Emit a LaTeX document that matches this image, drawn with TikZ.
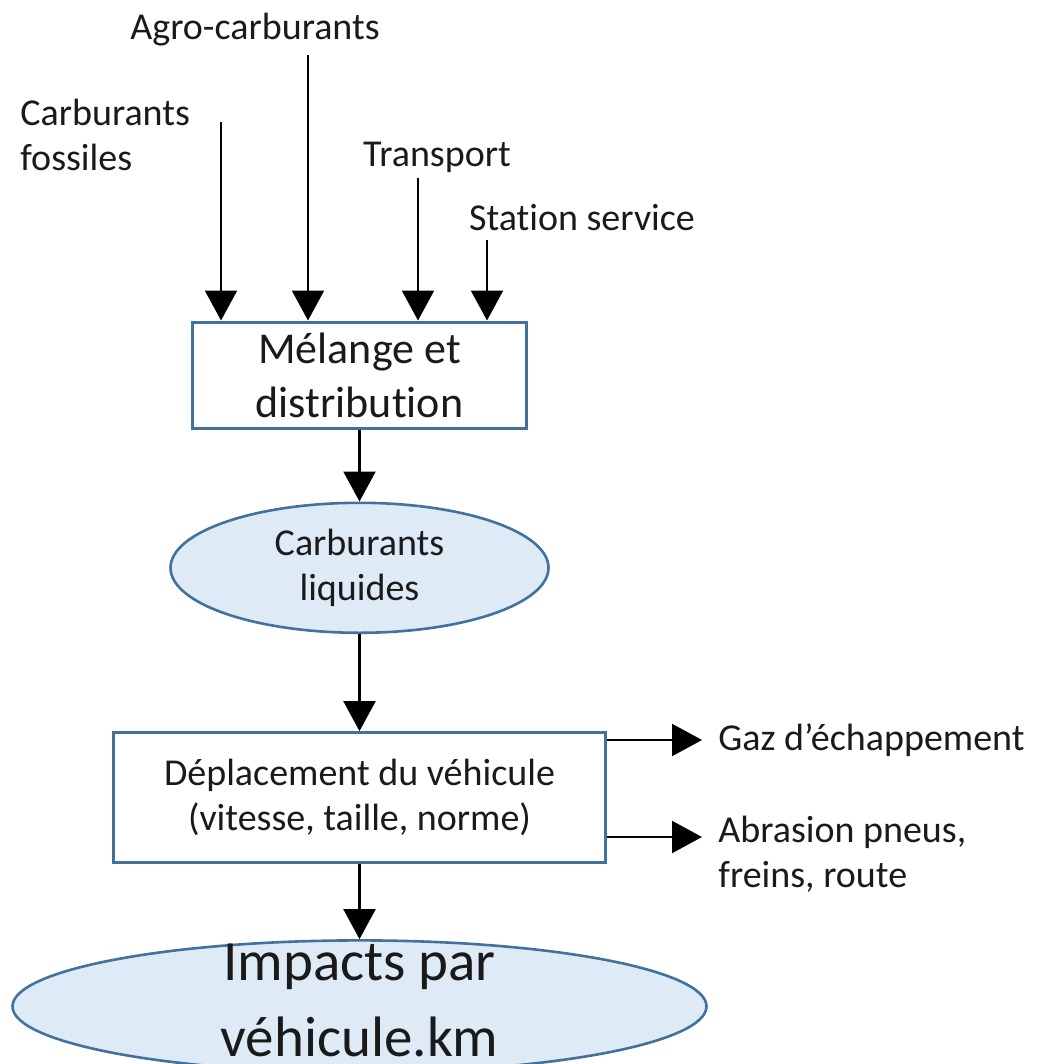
\documentclass[tikz,border=0pt]{standalone}
\usepackage{fontspec}
\setmainfont{Carlito}[Ligatures=NoCommon]
\usepackage{xcolor}
\usepackage{tikz}
\usetikzlibrary{shapes.geometric, arrows.meta, positioning}
\definecolor{boxblue}{HTML}{41719C}
\definecolor{ovalfill}{HTML}{DEEBF7}
\definecolor{inktext}{HTML}{1A1A1A}
\tikzset{
  proc/.style={rectangle, draw=boxblue, line width=1.5pt, fill=white,
               align=center, text=inktext, inner sep=0pt},
  oval/.style={ellipse, draw=boxblue, line width=1.3pt, fill=ovalfill,
               align=center, text=inktext, inner sep=0pt},
  tag/.style={font=\fontsize{19}{22.5}\selectfont, text=inktext, inner sep=0pt},
  flow/.style={-{Triangle[width=16pt,length=15pt]}, line width=1.1pt, black},
}

\begin{document}
\begin{tikzpicture}[x=0.5pt, y=-0.5pt]
  \useasboundingbox (0,0) rectangle (1043,1064);

  % ── Main chain ───────────────────────────────────────────────────────────
  \node[proc, minimum width=167pt, minimum height=53pt,
        font=\fontsize{22}{27}\selectfont] (melange) at (359.5,375)
        {Mélange et\\distribution};
  \node[oval, minimum width=189pt, minimum height=65pt,
        font=\fontsize{19}{22.5}\selectfont, below=36pt of melange] (liquides)
        {Carburants\\liquides};
  \node[proc, minimum width=246pt, minimum height=65pt,
        font=\fontsize{19}{22.5}\selectfont, below=48.5pt of liquides] (deplacement)
        {Déplacement du véhicule\\(vitesse, taille, norme)};
  \node[oval, minimum width=347pt, minimum height=66pt,
        below=37.5pt of deplacement] (impacts) {};
  \node[font=\fontsize{28.5}{38}\selectfont, align=center, text=inktext, inner sep=0pt]
        (impactstxt) at ([yshift=3pt]impacts.center) {Impacts par\\véhicule.km};

  % ── Inputs ───────────────────────────────────────────────────────────────
  \node[tag] (agro) at (255,30) {Agro-carburants};
  \node[tag, align=left, anchor=west] (fossiles) at (20,135) {Carburants\\fossiles};
  \node[tag] (transport) at (437,157) {Transport};
  \node[tag] (station) at (582,218) {Station service};

  \coordinate (fossin)    at (221,122);
  \coordinate (agroin)    at (308,55);
  \coordinate (transin)   at (418,178);
  \coordinate (stationin) at (487,240);

  % ── Outputs ──────────────────────────────────────────────────────────────
  \node[tag, anchor=west] (gaz) at (718,740) {Gaz d’échappement};
  \node[tag, align=left, anchor=west] (abrasion) at (718,854) {Abrasion pneus,\\freins, route};

  \coordinate (gazout) at (702,740);
  \coordinate (abrout) at (702,837);

  % ── Edges ────────────────────────────────────────────────────────────────
  \draw[flow] (fossin)    -- (fossin |- melange.north);
  \draw[flow] (agroin)    -- (agroin |- melange.north);
  \draw[flow] (transin)   -- (transin |- melange.north);
  \draw[flow] (stationin) -- (stationin |- melange.north);

  \draw[flow] (melange)     -- (liquides);
  \draw[flow] (liquides)    -- (deplacement);
  \draw[flow] (deplacement) -- (impacts);

  \draw[flow] (deplacement.east |- gazout) -- (gazout);
  \draw[flow] (deplacement.east |- abrout) -- (abrout);

\end{tikzpicture}
\end{document}
